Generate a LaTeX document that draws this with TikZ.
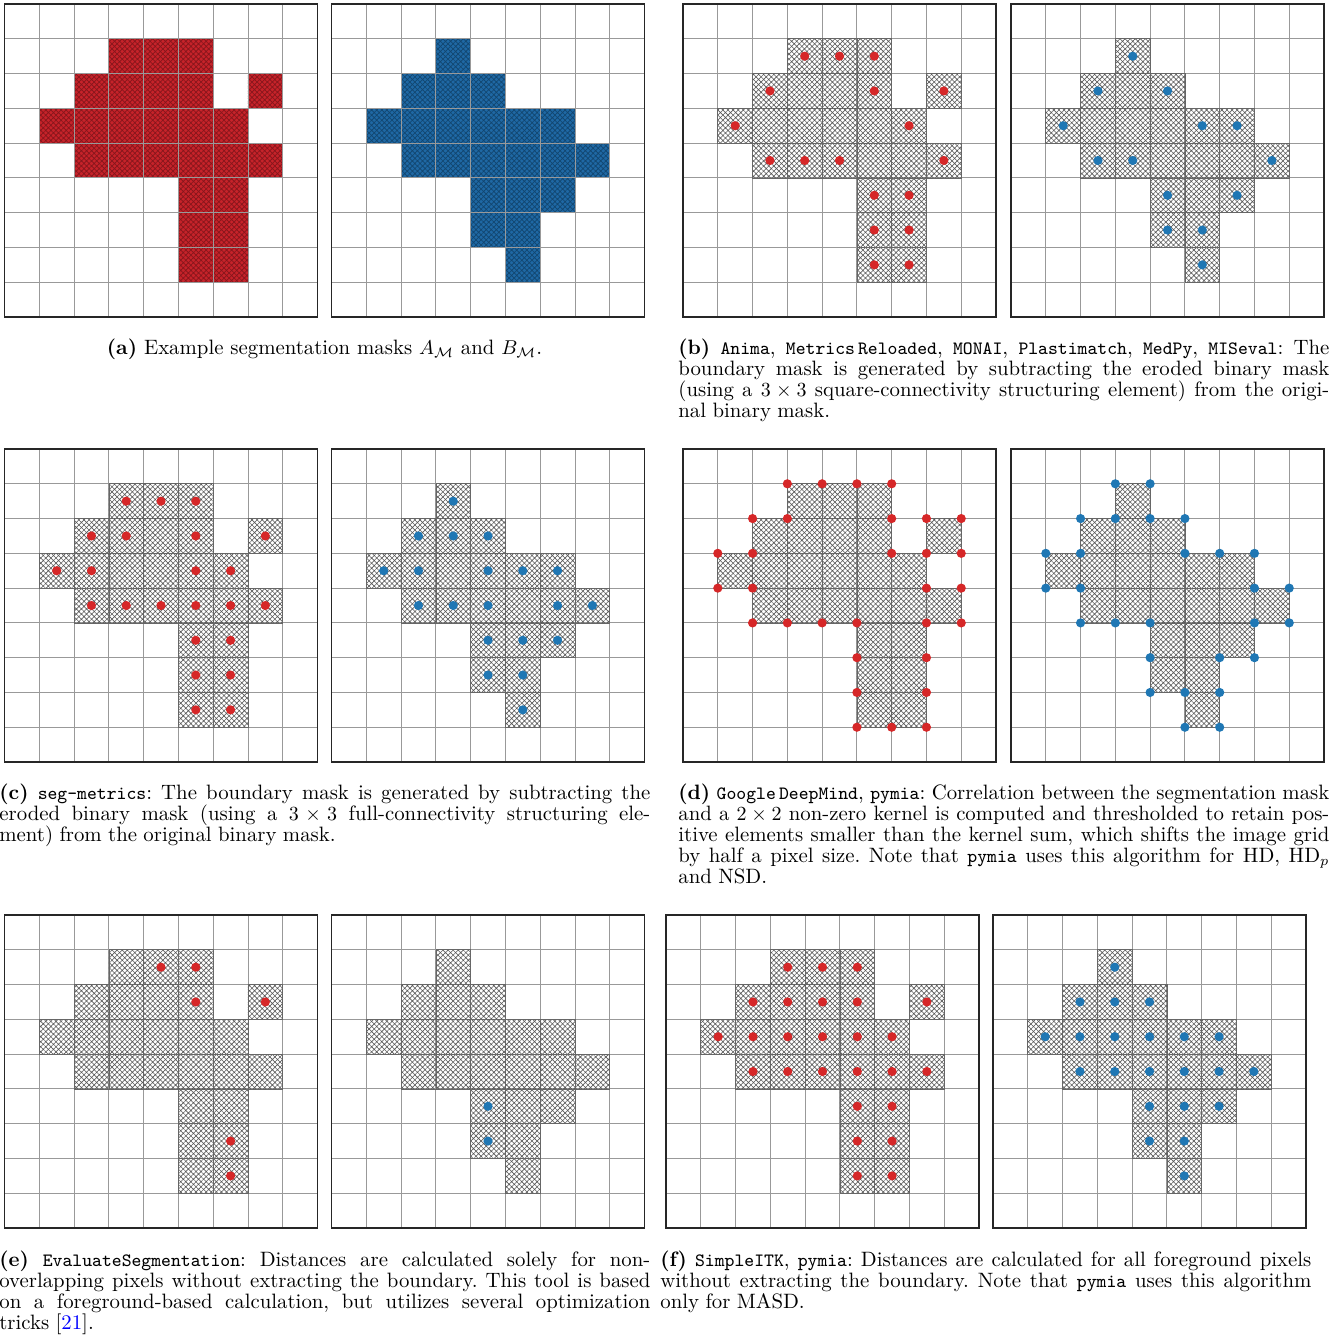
\documentclass[tikz,border=0pt]{standalone}
\usepackage{xcolor}
\usepackage{tikz}
\usetikzlibrary{patterns.meta}
\definecolor{maskred}{RGB}{198,35,42}
\definecolor{hatchred}{RGB}{135,22,28}
\definecolor{maskblue}{RGB}{31,104,164}
\definecolor{hatchblue}{RGB}{18,70,112}
\definecolor{dotred}{RGB}{214,39,40}
\definecolor{dotblue}{RGB}{31,119,180}

% mask pixels, column/row
\def\maskA{3/1,4/1,5/1,2/2,3/2,4/2,5/2,7/2,1/3,2/3,3/3,4/3,5/3,6/3,2/4,3/4,4/4,5/4,6/4,7/4,5/5,6/5,5/6,6/6,5/7,6/7}
\def\maskB{3/1,2/2,3/2,4/2,1/3,2/3,3/3,4/3,5/3,6/3,2/4,3/4,4/4,5/4,6/4,7/4,4/5,5/5,6/5,4/6,5/6,5/7}
% boundary pixels
\def\crossA{3/1,4/1,5/1,2/2,5/2,7/2,1/3,6/3,2/4,3/4,4/4,7/4,5/5,6/5,5/6,6/6,5/7,6/7}
\def\crossB{3/1,2/2,4/2,1/3,5/3,6/3,2/4,3/4,7/4,4/5,6/5,4/6,5/6,5/7}
\def\fullA{3/1,4/1,5/1,2/2,3/2,5/2,7/2,1/3,2/3,5/3,6/3,2/4,3/4,4/4,5/4,6/4,7/4,5/5,6/5,5/6,6/6,5/7,6/7}
\def\fullB{3/1,2/2,3/2,4/2,1/3,2/3,4/3,5/3,6/3,2/4,3/4,4/4,6/4,7/4,4/5,5/5,6/5,4/6,5/6,5/7}
% grid corners
\def\cornerA{3/1,4/1,5/1,6/1,2/2,3/2,6/2,7/2,8/2,1/3,2/3,6/3,7/3,8/3,1/4,2/4,7/4,8/4,2/5,3/5,4/5,5/5,7/5,8/5,5/6,7/6,5/7,7/7,5/8,6/8,7/8}
\def\cornerB{3/1,4/1,2/2,3/2,4/2,5/2,1/3,2/3,5/3,6/3,7/3,1/4,2/4,7/4,8/4,2/5,3/5,4/5,7/5,8/5,4/6,6/6,7/6,4/7,5/7,6/7,5/8,6/8}
% non-overlapping pixels
\def\diffA{4/1,5/1,5/2,7/2,6/6,6/7}
\def\diffB{4/5,4/6}

\newcommand{\toolname}[1]{{\fontsize{9.4}{10.6}\selectfont\ttfamily #1}}
\newcommand{\maskcells}[2]{\foreach \cx/\cy in #1 {\path[#2] (\cx,\cy) rectangle ++(1,1);}}
\newcommand{\panelgrid}{%
  \foreach \k in {1,...,8} {\draw[gridline] (\k,0) -- (\k,9) (0,\k) -- (9,\k);}}
\newcommand{\panelborder}{\draw[panelframe] (0,0) rectangle (9,9);}
\newcommand{\pixeldots}[2]{\foreach \cx/\cy in #1 {\fill[#2] (\cx+0.5,\cy+0.5) circle[radius=2.3pt];}}
\newcommand{\cornerdots}[2]{\foreach \cx/\cy in #1 {\fill[#2] (\cx,\cy) circle[radius=2.3pt];}}

\begin{document}
\begin{tikzpicture}[
    x=0.5pt,y=-0.5pt,
    cell/.style={x=17.39pt,y=-17.39pt},
    gridline/.style={draw=black!40,line width=0.45pt},
    panelframe/.style={draw=black!85,line width=0.85pt},
    redmask/.style={fill=maskred},
    bluemask/.style={fill=maskblue},
    redhatch/.style={pattern={Hatch[distance=1.8pt,angle=45,line width=0.35pt]},pattern color=hatchred},
    bluehatch/.style={pattern={Hatch[distance=1.8pt,angle=45,line width=0.35pt]},pattern color=hatchblue},
    hatched/.style={pattern={Hatch[distance=1.8pt,angle=45,line width=0.3pt]},pattern color=black!65,
        draw=black!60,line width=0.3pt},
    reddot/.style={fill=dotred},
    bluedot/.style={fill=dotblue},
    captext/.style={font=\fontsize{10.4}{10.6}\selectfont,inner sep=0pt,text width=325.5pt,
        align=justify,anchor=base west,
        execute at begin node={\frenchspacing\spaceskip=3.2pt plus 3pt minus 1.8pt\relax}},
    capline/.style={font=\fontsize{10.4}{10.6}\selectfont,inner sep=0pt,anchor=base}
]
\useasboundingbox (0,0) rectangle (1343,1337);

% (a) masks
\begin{scope}[shift={(4.5,4)},cell]
  \maskcells{\maskA}{redmask} \maskcells{\maskA}{redhatch} \panelgrid \panelborder
\end{scope}
\begin{scope}[shift={(331.5,4)},cell]
  \maskcells{\maskB}{bluemask} \maskcells{\maskB}{bluehatch} \panelgrid \panelborder
\end{scope}
% (b) cross erosion
\begin{scope}[shift={(683,4)},cell]
  \panelgrid \maskcells{\maskA}{hatched} \panelborder \pixeldots{\crossA}{reddot}
\end{scope}
\begin{scope}[shift={(1011,4)},cell]
  \panelgrid \maskcells{\maskB}{hatched} \panelborder \pixeldots{\crossB}{bluedot}
\end{scope}
% (c) full erosion
\begin{scope}[shift={(4.5,449)},cell]
  \panelgrid \maskcells{\maskA}{hatched} \panelborder \pixeldots{\fullA}{reddot}
\end{scope}
\begin{scope}[shift={(331.5,449)},cell]
  \panelgrid \maskcells{\maskB}{hatched} \panelborder \pixeldots{\fullB}{bluedot}
\end{scope}
% (d) 2x2 kernel, corners
\begin{scope}[shift={(683,449)},cell]
  \panelgrid \maskcells{\maskA}{hatched} \panelborder \cornerdots{\cornerA}{reddot}
\end{scope}
\begin{scope}[shift={(1011,449)},cell]
  \panelgrid \maskcells{\maskB}{hatched} \panelborder \cornerdots{\cornerB}{bluedot}
\end{scope}
% (e) non-overlapping
\begin{scope}[shift={(4.5,915)},cell]
  \panelgrid \maskcells{\maskA}{hatched} \panelborder \pixeldots{\diffA}{reddot}
\end{scope}
\begin{scope}[shift={(331.5,915)},cell]
  \panelgrid \maskcells{\maskB}{hatched} \panelborder \pixeldots{\diffB}{bluedot}
\end{scope}
% (f) all foreground
\begin{scope}[shift={(666,915)},cell]
  \panelgrid \maskcells{\maskA}{hatched} \panelborder \pixeldots{\maskA}{reddot}
\end{scope}
\begin{scope}[shift={(993,915)},cell]
  \panelgrid \maskcells{\maskB}{hatched} \panelborder \pixeldots{\maskB}{bluedot}
\end{scope}

% captions
\node[capline] (capa) at (324.5,354) {\textbf{(a)} Example segmentation masks $A_{\mathcal{M}}$ and $B_{\mathcal{M}}$.};
\node[captext] (capb) at (678,354) {\textbf{(b)} \toolname{Anima}, \toolname{Metrics\,Reloaded}, \toolname{MONAI}, \toolname{Plastimatch}, \toolname{MedPy}, \toolname{MISeval}: The\linebreak
  boundary mask is generated by subtracting the eroded binary mask\linebreak
  (using a $3\times3$ square-connectivity structuring element) from the origi-\linebreak
  nal binary mask.};
\node[captext] (capc) at (-1,799) {\textbf{(c)} \toolname{seg-metrics}: The boundary mask is generated by subtracting the\linebreak
  eroded binary mask (using a $3\times3$ full-connectivity structuring ele-\linebreak
  ment) from the original binary mask.};
\node[captext] (capd) at (678,799) {\textbf{(d)} \toolname{Google\,DeepMind}, \toolname{pymia}: Correlation between the segmentation mask\linebreak
  and a $2\times2$ non-zero kernel is computed and thresholded to retain pos-\linebreak
  itive elements smaller than the kernel sum, which shifts the image grid\linebreak
  by half a pixel size. Note that \toolname{pymia} uses this algorithm for HD, HD$_p$\linebreak
  and NSD.};
\node[captext] (cape) at (-1,1266) {\textbf{(e)} \toolname{EvaluateSegmentation}: Distances are calculated solely for non-\linebreak
  overlapping pixels without extracting the boundary. This tool is based\linebreak
  on a foreground-based calculation, but utilizes several optimization\linebreak
  tricks [\textcolor{blue}{21}].};
\node[captext] (capf) at (660,1266) {\textbf{(f)} \toolname{SimpleITK}, \toolname{pymia}: Distances are calculated for all foreground pixels\linebreak
  without extracting the boundary. Note that \toolname{pymia} uses this algorithm\linebreak
  only for MASD.};
\end{tikzpicture}
\end{document}
